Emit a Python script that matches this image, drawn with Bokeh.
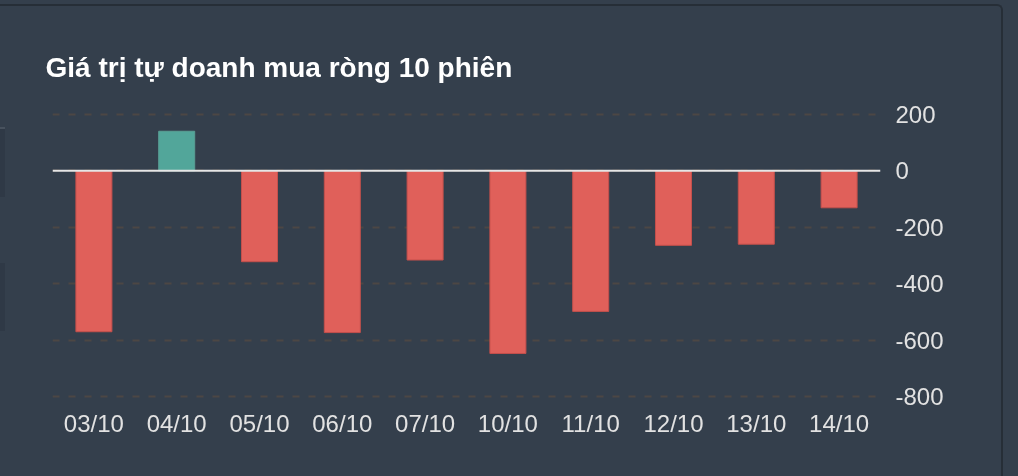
import re

from bokeh.embed import file_html
from bokeh.models import ColumnDataSource, FactorRange, FixedTicker, Range1d, Span
from bokeh.plotting import figure
from bokeh.resources import INLINE

# net proprietary trading value, last 10 sessions
dates = ["03/10", "04/10", "05/10", "06/10", "07/10",
         "10/10", "11/10", "12/10", "13/10", "14/10"]
net_values = [-570, 140, -322, -573, -316, -647, -498, -264, -260, -131]
y_ticks = [-800, -600, -400, -200, 0, 200]
title_text = "Giá trị tự doanh mua ròng 10 phiên"

BG = "#343f4c"
RED = "#e0605a"
TEAL = "#52a69a"
TEXT = "#e2e2e2"
FONT = "Liberation Sans"

colors = [TEAL if v >= 0 else RED for v in net_values]
lines = ["#5a9e94" if v >= 0 else "#c4504c" for v in net_values]

source = ColumnDataSource(data=dict(
    date=dates,
    value=net_values,
    color=colors,
    line=lines,
))

p = figure(
    title=title_text,
    x_range=FactorRange(factors=dates),
    y_range=Range1d(-810, 210),
    width=1001, height=470,
    min_border_left=52, min_border_right=121,
    min_border_top=105, min_border_bottom=77,
    output_backend="svg", toolbar_location=None,
    y_axis_location="right",
    outline_line_color=None,
)
# transparent canvas, the page itself carries the dark card colour
p.background_fill_color = None
p.border_fill_color = None

p.title.text_font = FONT
p.title.text_font_size = "28px"
p.title.text_font_style = "bold"
p.title.text_color = "#ffffff"
p.title.align = "left"
p.title.offset = -7
p.title.standoff = 57

p.vbar(x="date", top="value", bottom=0, width=0.435, source=source,
       fill_color="color", line_color="line", line_width=1)

p.add_layout(Span(location=0, dimension="width", line_color="#e6e6e6", line_width=2))

p.xgrid.grid_line_color = None
p.ygrid.ticker = FixedTicker(ticks=y_ticks)
p.ygrid.grid_line_color = "#4c4744"
p.ygrid.grid_line_width = 2
p.ygrid.grid_line_dash = "7 9"

p.yaxis.ticker = FixedTicker(ticks=y_ticks)
p.yaxis.major_label_overrides = {t: str(t) for t in y_ticks}
for ax in (p.xaxis, p.yaxis):
    ax.axis_line_color = None
    ax.major_tick_line_color = None
    ax.minor_tick_line_color = None
    ax.major_label_text_color = TEXT
    ax.major_label_text_font = FONT
    ax.major_label_text_font_size = "24px"
p.yaxis.major_label_standoff = 9
p.xaxis.major_label_standoff = 4

# card look: dark page, top/right border with rounded corner,
# plus the two slim panels peeking in at the left edge
page_css = """<style>
html { background-color: %s !important; overflow: hidden !important; }
body { background-color: %s !important; margin: 4px 0 0 0 !important;
       padding: 0 !important; width: 1001px !important; height: auto !important;
       box-sizing: content-box !important;
       border-top: 2px solid #262e37 !important; border-right: 2px solid #262e37 !important;
       border-top-right-radius: 6px !important; }
html::before, html::after { content: ""; position: fixed; left: 0; width: 5px;
       background: #2f3946; }
html::before { top: 127px; height: 68px; border-top: 2px solid #48525e; }
html::after { top: 263px; height: 68px; }
</style>
""" % (BG, BG)
html = file_html(p, INLINE)
html = re.sub(r"</head>", lambda m: page_css + "</head>", html, count=1)
open("out.html", "w").write(html)
